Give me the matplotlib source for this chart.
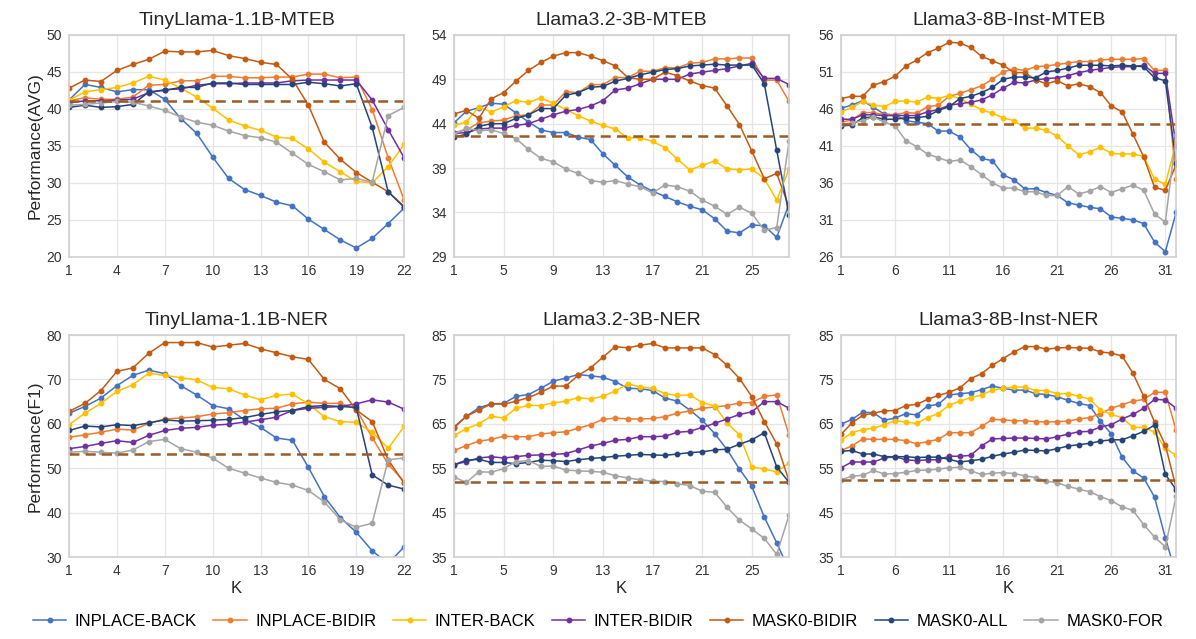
import matplotlib
matplotlib.use("Agg")
import matplotlib.pyplot as plt
import numpy as np

plt.rcParams['font.family'] = ['Liberation Sans', 'DejaVu Sans']

series_names = ["INPLACE-BACK", "INPLACE-BIDIR", "INTER-BACK", "INTER-BIDIR",
                "MASK0-BIDIR", "MASK0-ALL", "MASK0-FOR"]
series_colors = ["#4472C4", "#ED7D31", "#FFC000", "#7030A0",
                 "#C55A11", "#264478", "#A5A5A5"]
baseline_color = "#9C5B26"

# ---- TinyLlama-1.1B-MTEB (K = 1..22)
tl_mteb_inplace_back = [41.2, 43.3, 42.9, 42.3, 42.6, 42.6, 41.3, 38.7, 36.7, 33.5, 30.6, 29.1, 28.3, 27.4, 26.9, 25.1, 23.7, 22.3, 21.2, 22.5, 24.5, 26.6]
tl_mteb_inplace_bidir = [41.1, 41.5, 41.3, 41.3, 41.6, 43.2, 43.3, 43.8, 43.8, 44.4, 44.4, 44.2, 44.2, 44.3, 44.3, 44.7, 44.7, 44.2, 44.3, 39.9, 33.4, 27.7]
tl_mteb_inter_back = [41.2, 42.3, 42.6, 42.9, 43.5, 44.4, 43.9, 42.8, 41.6, 40.1, 38.5, 37.7, 37.1, 36.2, 36.0, 34.6, 32.8, 31.5, 30.2, 30.0, 32.2, 35.2]
tl_mteb_inter_bidir = [40.8, 41.1, 41.1, 41.2, 41.3, 42.2, 42.6, 42.7, 43.2, 43.4, 43.4, 43.5, 43.5, 43.5, 43.8, 43.9, 43.9, 43.9, 43.9, 41.2, 37.2, 33.4]
tl_mteb_mask0_bidir = [42.8, 43.9, 43.7, 45.2, 46.0, 46.7, 47.8, 47.7, 47.7, 47.9, 47.2, 46.8, 46.3, 46.0, 44.0, 40.5, 35.5, 33.2, 31.4, 30.1, 28.8, 26.8]
tl_mteb_mask0_all = [40.2, 40.5, 40.2, 40.3, 40.6, 42.3, 42.5, 42.9, 42.9, 43.5, 43.5, 43.3, 43.3, 43.3, 43.3, 43.6, 43.4, 43.1, 43.4, 37.5, 28.8, 26.7]
tl_mteb_mask0_for = [40.5, 40.6, 40.8, 41.0, 40.9, 40.4, 39.8, 38.9, 38.2, 37.8, 37.0, 36.4, 36.1, 35.5, 34.0, 32.5, 31.5, 30.4, 30.6, 30.1, 39.1, 40.2]
tl_mteb_base = 41.0

# ---- Llama3.2-3B-MTEB (K = 1..28)
l32_mteb_inplace_back = [44.1, 45.4, 45.8, 46.3, 46.2, 45.2, 44.2, 43.3, 43.0, 43.0, 42.5, 42.2, 40.6, 39.3, 38.0, 37.1, 36.4, 35.8, 35.2, 34.7, 34.3, 33.3, 31.9, 31.7, 32.6, 32.5, 31.2, 35.0]
l32_mteb_inplace_bidir = [43.0, 43.3, 44.1, 44.3, 44.4, 44.9, 45.0, 46.1, 46.1, 47.6, 47.5, 48.4, 48.4, 49.2, 49.2, 49.9, 49.9, 50.3, 50.3, 50.8, 50.9, 51.3, 51.3, 51.4, 51.4, 48.9, 48.9, 46.5]
l32_mteb_inter_back = [43.8, 44.2, 45.9, 45.3, 45.9, 46.6, 46.4, 46.9, 46.3, 45.6, 44.9, 44.3, 43.8, 43.4, 42.4, 42.4, 42.0, 41.3, 40.0, 38.8, 39.3, 39.8, 38.9, 38.8, 38.9, 37.8, 35.4, 38.9]
l32_mteb_inter_bidir = [42.9, 43.0, 43.4, 43.5, 43.5, 43.8, 44.0, 44.5, 45.0, 45.4, 45.6, 46.0, 46.6, 47.8, 48.0, 48.5, 49.0, 49.0, 49.0, 49.6, 49.8, 50.0, 50.2, 50.5, 50.8, 49.1, 49.1, 48.4]
l32_mteb_mask0_bidir = [45.1, 45.5, 44.6, 46.8, 47.5, 48.8, 50.0, 50.9, 51.6, 52.0, 52.0, 51.6, 51.1, 50.5, 49.2, 49.0, 49.0, 49.8, 49.4, 48.8, 48.3, 48.0, 46.0, 43.9, 40.9, 37.8, 38.4, 34.6]
l32_mteb_mask0_all = [42.5, 42.8, 43.7, 44.0, 44.0, 44.6, 45.0, 45.7, 45.7, 47.2, 47.5, 48.1, 48.2, 48.8, 49.1, 49.5, 49.8, 50.1, 50.2, 50.5, 50.6, 50.7, 50.6, 50.6, 50.6, 48.5, 41.0, 33.7]
l32_mteb_mask0_for = [42.8, 43.5, 43.2, 43.3, 42.9, 42.3, 41.1, 40.1, 39.7, 38.9, 38.4, 37.6, 37.4, 37.6, 37.2, 36.9, 36.2, 37.1, 36.9, 36.4, 35.4, 34.7, 33.8, 34.6, 33.9, 32.0, 32.3, 42.1]
l32_mteb_base = 42.6

# ---- Llama3-8B-Inst-MTEB (K = 1..32)
l38_mteb_inplace_back = [46.1, 46.5, 47.1, 46.2, 45.3, 45.2, 44.4, 44.2, 44.0, 43.0, 43.0, 42.2, 40.5, 39.3, 39.0, 37.1, 36.4, 35.2, 35.2, 34.7, 34.3, 33.3, 33.0, 32.7, 32.5, 31.4, 31.2, 31.0, 30.5, 28.0, 26.7, 32.0]
l38_mteb_inplace_bidir = [44.2, 44.5, 45.5, 45.5, 45.2, 45.2, 45.5, 45.4, 46.3, 46.5, 47.7, 48.1, 48.6, 49.1, 50.0, 51.0, 51.4, 51.2, 51.7, 51.8, 52.0, 52.2, 52.4, 52.4, 52.6, 52.7, 52.7, 52.7, 52.8, 51.2, 51.2, 36.5]
l38_mteb_inter_back = [45.6, 46.2, 47.0, 46.5, 46.3, 47.0, 47.1, 46.9, 47.6, 47.4, 47.8, 47.4, 46.6, 45.9, 45.4, 44.8, 44.4, 43.4, 43.4, 43.1, 42.3, 41.0, 39.8, 40.2, 40.8, 40.0, 39.9, 39.9, 39.6, 36.5, 35.8, 41.5]
l38_mteb_inter_bidir = [44.6, 44.6, 45.2, 45.2, 45.1, 45.1, 45.1, 45.1, 45.6, 45.9, 46.5, 46.7, 46.9, 47.2, 47.9, 48.8, 49.6, 49.5, 49.9, 50.1, 50.2, 50.5, 50.9, 51.2, 51.4, 51.6, 51.7, 51.7, 51.9, 50.8, 50.8, 41.0]
l38_mteb_mask0_bidir = [47.4, 47.7, 47.7, 49.2, 49.7, 50.4, 51.8, 52.6, 53.6, 54.2, 55.0, 54.9, 54.3, 53.1, 52.5, 51.9, 50.9, 50.9, 49.9, 49.4, 49.8, 49.1, 49.4, 49.0, 48.2, 46.4, 45.6, 42.6, 39.5, 35.4, 35.0, 38.5]
l38_mteb_mask0_all = [43.7, 43.8, 44.8, 44.9, 44.6, 44.6, 44.8, 44.8, 45.0, 45.8, 46.3, 47.4, 47.7, 48.2, 48.9, 50.0, 50.3, 50.3, 50.2, 51.0, 51.2, 51.5, 51.9, 51.9, 51.9, 51.8, 51.9, 51.8, 51.7, 50.2, 49.8, 38.7]
l38_mteb_mask0_for = [43.9, 44.1, 44.4, 44.9, 44.2, 43.7, 41.7, 40.9, 39.9, 39.4, 38.9, 39.1, 38.2, 37.1, 36.0, 35.3, 35.3, 34.8, 34.8, 34.3, 34.3, 35.5, 34.5, 34.9, 35.5, 34.7, 35.2, 35.7, 35.0, 31.8, 30.7, 42.5]
l38_mteb_base = 44.0

# ---- TinyLlama-1.1B-NER (K = 1..22)
tl_ner_inplace_back = [62.4, 63.9, 65.8, 68.6, 70.9, 72.1, 71.3, 68.6, 66.5, 64.1, 63.4, 60.9, 59.2, 56.8, 56.3, 50.2, 43.6, 38.9, 35.6, 31.4, 28.5, 32.3]
tl_ner_inplace_bidir = [57.0, 57.5, 58.1, 58.8, 58.6, 60.1, 61.1, 61.3, 61.6, 62.2, 62.5, 63.0, 63.4, 63.5, 64.5, 64.9, 64.6, 64.6, 63.3, 56.9, 50.9, 47.0]
tl_ner_inter_back = [59.8, 62.4, 64.6, 67.3, 68.8, 71.4, 70.9, 70.4, 69.9, 68.2, 67.9, 66.5, 65.4, 66.4, 66.7, 64.5, 61.6, 60.5, 60.3, 58.1, 54.5, 59.4]
tl_ner_inter_bidir = [54.4, 54.9, 55.6, 56.2, 55.8, 57.4, 58.5, 59.0, 59.2, 59.7, 59.9, 60.4, 60.9, 61.5, 63.0, 63.5, 63.7, 63.9, 64.5, 65.4, 64.9, 63.3]
tl_ner_mask0_bidir = [62.8, 64.6, 67.5, 71.8, 72.6, 75.9, 78.3, 78.3, 78.3, 77.3, 77.7, 78.1, 76.9, 76.0, 75.1, 74.5, 70.0, 67.9, 63.1, 60.5, 51.9, 46.6]
tl_ner_mask0_all = [58.5, 59.5, 59.3, 59.8, 59.6, 60.2, 60.9, 60.6, 60.7, 60.8, 61.0, 61.4, 62.1, 62.7, 63.0, 63.9, 64.1, 63.9, 63.7, 48.5, 46.2, 45.3]
tl_ner_mask0_for = [53.6, 53.8, 53.6, 53.4, 54.1, 56.0, 56.5, 54.4, 53.6, 52.3, 50.0, 48.9, 47.8, 46.8, 46.2, 45.0, 42.4, 38.4, 36.7, 37.6, 51.9, 52.3]
tl_ner_base = 53.1

# ---- Llama3.2-3B-NER (K = 1..28)
l32_ner_inplace_back = [64.3, 66.7, 68.6, 69.5, 69.6, 71.2, 71.6, 73.0, 74.6, 75.3, 76.1, 75.8, 75.5, 74.5, 73.0, 72.9, 72.5, 70.8, 70.1, 68.1, 65.8, 62.8, 59.2, 54.8, 50.9, 44.0, 38.2, 32.0]
l32_ner_inplace_bidir = [59.0, 60.1, 61.1, 61.5, 62.2, 62.1, 62.1, 62.7, 63.0, 63.2, 64.0, 64.8, 66.0, 66.3, 66.1, 66.1, 66.2, 66.6, 67.4, 67.9, 68.5, 68.8, 69.1, 69.7, 69.8, 71.2, 71.5, 62.4]
l32_ner_inter_back = [62.4, 63.9, 65.0, 66.7, 66.3, 68.5, 69.2, 69.1, 69.7, 70.1, 70.9, 70.6, 71.2, 72.4, 74.0, 73.3, 73.0, 71.8, 71.4, 71.5, 69.8, 69.0, 65.2, 62.5, 55.3, 54.8, 54.2, 56.2]
l32_ner_inter_bidir = [55.8, 56.5, 57.3, 57.6, 57.3, 57.6, 57.9, 58.0, 58.1, 58.3, 59.1, 60.0, 60.6, 61.3, 61.5, 62.1, 62.1, 62.2, 63.1, 63.3, 64.2, 65.1, 66.1, 67.1, 67.7, 70.0, 70.0, 68.5]
l32_ner_mask0_bidir = [64.1, 66.7, 68.1, 69.5, 69.4, 70.1, 70.9, 72.1, 73.5, 73.5, 75.9, 77.6, 80.0, 82.4, 82.1, 82.7, 83.1, 82.1, 82.1, 82.1, 82.1, 80.6, 78.2, 75.2, 71.1, 65.5, 60.5, 52.1]
l32_ner_mask0_all = [55.8, 56.8, 57.0, 56.3, 56.3, 56.0, 56.3, 56.8, 56.7, 56.5, 56.9, 57.2, 57.4, 57.7, 57.9, 58.1, 58.0, 57.9, 58.2, 58.5, 58.7, 59.1, 59.3, 60.4, 61.4, 63.0, 55.3, 51.8]
l32_ner_mask0_for = [53.0, 51.8, 54.2, 54.1, 54.9, 56.5, 56.7, 55.4, 55.5, 54.6, 54.4, 54.3, 54.1, 53.3, 52.8, 52.4, 52.1, 52.0, 51.5, 51.1, 49.8, 49.6, 46.2, 43.3, 41.3, 39.2, 35.6, 44.5]
l32_ner_base = 52.0

# ---- Llama3-8B-Inst-NER (K = 1..32)
l38_ner_inplace_back = [64.9, 66.0, 67.6, 67.5, 65.8, 66.3, 67.3, 67.0, 69.0, 69.4, 71.5, 71.8, 72.0, 72.7, 73.5, 73.0, 72.6, 72.6, 71.8, 71.6, 71.1, 70.3, 69.6, 69.1, 65.6, 62.7, 57.5, 54.4, 52.8, 48.5, 39.3, 31.0]
l38_ner_inplace_bidir = [59.0, 60.0, 61.6, 61.5, 61.5, 61.5, 61.2, 60.5, 61.0, 61.5, 63.0, 63.0, 63.0, 64.4, 66.0, 65.9, 65.7, 65.7, 65.5, 65.4, 65.5, 65.6, 66.1, 66.4, 67.3, 68.5, 69.3, 70.1, 70.5, 72.1, 72.1, 63.5]
l38_ner_inter_back = [61.3, 63.0, 63.7, 64.0, 64.8, 65.7, 65.4, 65.1, 66.4, 67.3, 69.2, 70.1, 70.9, 71.5, 72.6, 73.0, 73.3, 73.3, 72.5, 72.5, 71.8, 71.8, 71.2, 70.6, 68.1, 67.1, 66.4, 64.2, 64.2, 63.1, 59.5, 57.9]
l38_ner_inter_bidir = [55.1, 56.4, 56.4, 56.4, 57.3, 57.6, 56.9, 56.7, 56.9, 56.9, 57.7, 57.7, 57.9, 60.0, 61.6, 61.7, 61.8, 61.8, 61.7, 61.6, 62.1, 62.7, 63.2, 63.3, 64.3, 64.8, 66.1, 67.1, 68.5, 70.5, 70.4, 68.5]
l38_ner_mask0_bidir = [62.6, 65.2, 66.9, 67.4, 67.9, 68.0, 69.1, 69.4, 70.5, 71.4, 72.1, 73.1, 75.2, 76.3, 78.2, 79.7, 81.2, 82.4, 82.4, 81.8, 82.1, 82.2, 82.1, 82.0, 81.2, 80.9, 80.3, 76.4, 71.2, 65.4, 60.2, 50.6]
l38_ner_mask0_all = [58.8, 59.0, 58.2, 58.2, 57.6, 57.6, 57.6, 57.4, 57.5, 57.5, 57.0, 56.4, 56.7, 57.0, 57.7, 58.2, 58.6, 59.1, 59.0, 58.9, 59.4, 60.0, 60.3, 60.6, 61.1, 61.4, 61.4, 62.3, 63.3, 64.7, 53.6, 50.2]
l38_ner_mask0_for = [52.4, 53.2, 53.4, 54.5, 53.7, 53.8, 54.1, 54.5, 54.6, 54.8, 55.1, 55.2, 54.4, 53.6, 53.9, 54.0, 53.8, 53.3, 52.9, 52.1, 51.7, 50.9, 50.3, 49.7, 48.6, 47.7, 46.3, 45.5, 42.3, 39.5, 37.3, 48.7]
l38_ner_base = 52.4

panels = [
    ("TinyLlama-1.1B-MTEB", [tl_mteb_inplace_back, tl_mteb_inplace_bidir, tl_mteb_inter_back, tl_mteb_inter_bidir,
                             tl_mteb_mask0_bidir, tl_mteb_mask0_all, tl_mteb_mask0_for], tl_mteb_base,
     (20, 50, 5), range(1, 23, 3), "Performance(AVG)", None),
    ("Llama3.2-3B-MTEB", [l32_mteb_inplace_back, l32_mteb_inplace_bidir, l32_mteb_inter_back, l32_mteb_inter_bidir,
                          l32_mteb_mask0_bidir, l32_mteb_mask0_all, l32_mteb_mask0_for], l32_mteb_base,
     (29, 54, 5), range(1, 28, 4), None, None),
    ("Llama3-8B-Inst-MTEB", [l38_mteb_inplace_back, l38_mteb_inplace_bidir, l38_mteb_inter_back, l38_mteb_inter_bidir,
                             l38_mteb_mask0_bidir, l38_mteb_mask0_all, l38_mteb_mask0_for], l38_mteb_base,
     (26, 56, 5), range(1, 32, 5), None, None),
    ("TinyLlama-1.1B-NER", [tl_ner_inplace_back, tl_ner_inplace_bidir, tl_ner_inter_back, tl_ner_inter_bidir,
                            tl_ner_mask0_bidir, tl_ner_mask0_all, tl_ner_mask0_for], tl_ner_base,
     (30, 80, 10), range(1, 23, 3), "Performance(F1)", "K"),
    ("Llama3.2-3B-NER", [l32_ner_inplace_back, l32_ner_inplace_bidir, l32_ner_inter_back, l32_ner_inter_bidir,
                         l32_ner_mask0_bidir, l32_ner_mask0_all, l32_ner_mask0_for], l32_ner_base,
     (35, 85, 10), range(1, 28, 4), None, "K"),
    ("Llama3-8B-Inst-NER", [l38_ner_inplace_back, l38_ner_inplace_bidir, l38_ner_inter_back, l38_ner_inter_bidir,
                            l38_ner_mask0_bidir, l38_ner_mask0_all, l38_ner_mask0_for], l38_ner_base,
     (35, 85, 10), range(1, 32, 5), None, "K"),
]

fig = plt.figure(figsize=(11.96, 6.39), dpi=100)
lefts = [0.0577, 0.3796, 0.7032]
bottoms = [0.598, 0.1283]
w, h = 0.2802, 0.3474

handles = []
for i, (title, data, base, yr, xt, ylab, xlab) in enumerate(panels):
    ax = fig.add_axes([lefts[i % 3], bottoms[i // 3], w, h])
    n = len(data[0])
    k = np.arange(1, n + 1)
    for s, name, col in zip(data, series_names, series_colors):
        ln, = ax.plot(k, s, color=col, lw=1.1, marker='o', ms=3.2, label=name)
        if i == 0:
            handles.append(ln)
    ax.axhline(base, color=baseline_color, lw=1.8, ls=(0, (4, 2.5)))
    ax.set_xlim(1, n)
    ax.set_ylim(yr[0], yr[1])
    ax.set_yticks(np.arange(yr[0], yr[1] + 1, yr[2]))
    ax.set_xticks(list(xt))
    ax.grid(True, color='#E6E6E6', lw=0.9)
    ax.set_axisbelow(True)
    for sp in ax.spines.values():
        sp.set_color('#D0D0D0')
        sp.set_linewidth(1.2)
    ax.tick_params(length=0, labelsize=10, colors='#333333', pad=5)
    ax.set_title(title, fontsize=14, color='#262626', pad=7)
    if ylab:
        ax.set_ylabel(ylab, fontsize=12.5, color='#262626', labelpad=3)
    if xlab:
        ax.set_xlabel(xlab, fontsize=12, color='#262626', labelpad=2)

fig.legend(handles=handles, loc='center', bbox_to_anchor=(0.5, 0.027), ncol=7,
           frameon=False, fontsize=12,
           handlelength=2.0, columnspacing=1.0, handletextpad=0.5, borderpad=0.2)

fig.savefig("out.png", dpi=100)
